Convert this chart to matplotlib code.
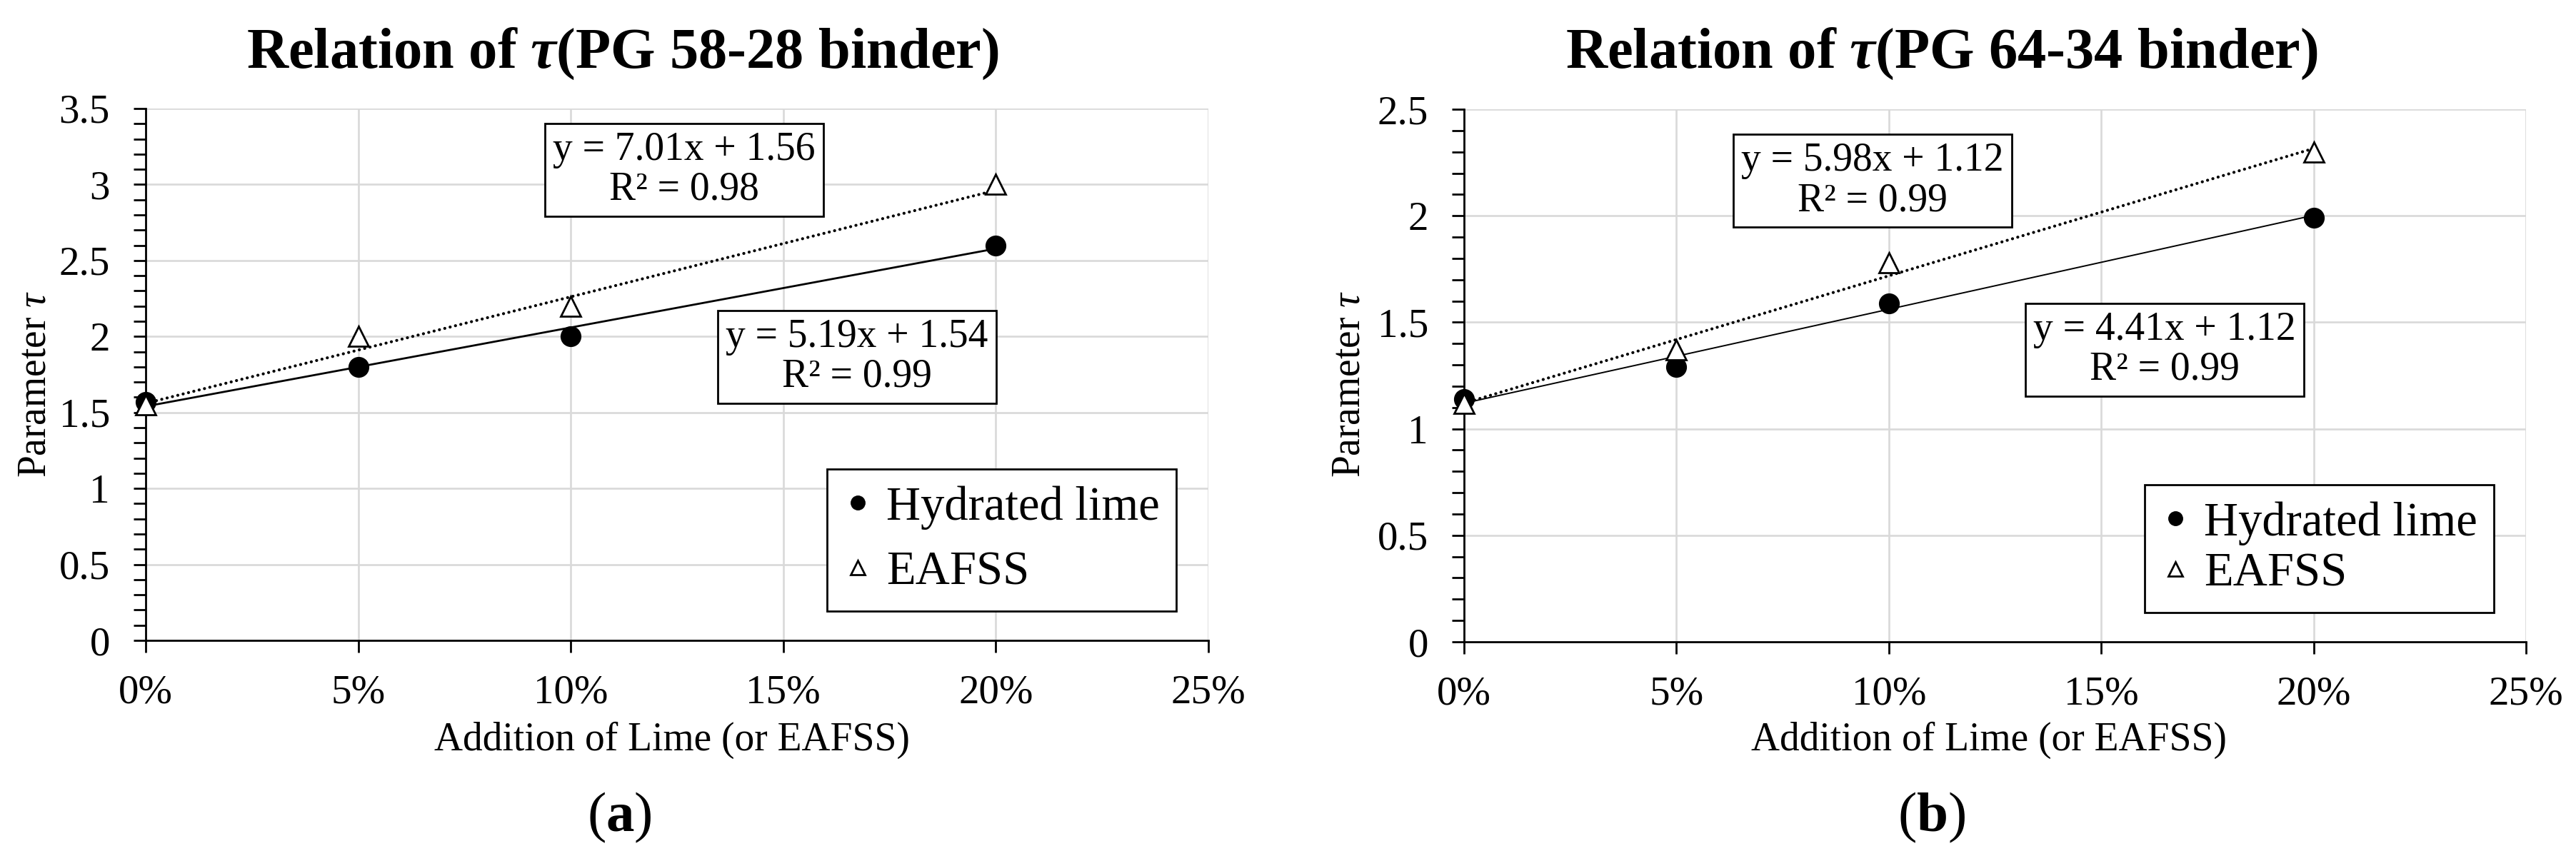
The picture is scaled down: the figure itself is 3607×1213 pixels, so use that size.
import numpy as np
import matplotlib
matplotlib.use("Agg")
import matplotlib.pyplot as plt
from matplotlib.ticker import MultipleLocator, PercentFormatter, FuncFormatter

plt.rcParams["font.family"] = ["Liberation Serif", "DejaVu Serif"]
plt.rcParams["mathtext.fontset"] = "custom"
plt.rcParams["mathtext.rm"] = "Liberation Serif"
plt.rcParams["mathtext.it"] = "Liberation Serif:italic"
plt.rcParams["mathtext.bf"] = "Liberation Serif:bold"
plt.rcParams["mathtext.bfit"] = "Liberation Serif:italic:bold"

# data
addition = [0.0, 0.05, 0.10, 0.20]

lime_a = [1.57, 1.80, 2.00, 2.60]
eafss_a = [1.55, 2.00, 2.20, 3.00]
lime_b = [1.14, 1.29, 1.59, 1.99]
eafss_b = [1.12, 1.37, 1.78, 2.30]

# trendline equations shown on the chart
slope_a = [5.19, 7.01]
icept_a = [1.54, 1.56]
r2_a = [0.99, 0.98]
slope_b = [4.41, 5.98]
icept_b = [1.12, 1.12]
r2_b = [0.99, 0.99]

titles = ["Relation of $\\mathbfit{\\tau}$(PG 58-28 binder)",
          "Relation of $\\mathbfit{\\tau}$(PG 64-34 binder)"]
ymax = [3.5, 2.5]

W, H = 3607, 1213
fig = plt.figure(figsize=(W / 100, H / 100), dpi=100)

def fx(px):
    return px / W

def fy(py):
    return 1 - py / H

ax_a = fig.add_axes([fx(204), fy(897), fx(1692 - 204), (897 - 152) / H])
ax_b = fig.add_axes([fx(2050), fy(899), fx(3537 - 2050), (899 - 153) / H])


def draw_panel(ax, lime, eafss, slopes, icepts, r2s, top, boxes, leg_space, lw_lime):
    xs = np.array([min(addition), max(addition)])
    # trendlines
    ax.plot(xs, slopes[0] * xs + icepts[0], color="black", lw=lw_lime, zorder=3)
    ax.plot(xs, slopes[1] * xs + icepts[1], color="black", lw=3.0,
            linestyle=(0, (0.05, 1.8)), dash_capstyle="round", zorder=3)
    # points
    ax.plot(addition, lime, "o", color="black", markersize=20,
            label="Hydrated lime", clip_on=False, zorder=4)
    ax.plot(addition, eafss, "^", color="black", markerfacecolor="white",
            markeredgewidth=2.0, markersize=20, label="EAFSS",
            clip_on=False, zorder=5)

    ax.set_xlim(0, 0.25)
    ax.set_ylim(0, top)
    ax.xaxis.set_major_locator(MultipleLocator(0.05))
    ax.xaxis.set_major_formatter(PercentFormatter(xmax=1, decimals=0))
    ax.yaxis.set_major_locator(MultipleLocator(0.5))
    ax.yaxis.set_minor_locator(MultipleLocator(0.1))
    ax.yaxis.set_major_formatter(FuncFormatter(lambda v, p: f"{v:g}"))

    ax.grid(True, which="major", color="#d9d9d9", lw=1.9)
    ax.set_axisbelow(True)
    for s in ["top", "right"]:
        ax.spines[s].set_visible(False)
    for s in ["left", "bottom"]:
        ax.spines[s].set_linewidth(2.0)
        ax.spines[s].set_color("black")
    ax.tick_params(axis="both", which="both", direction="out", length=12,
                   width=2.0, colors="black")
    ax.tick_params(axis="y", labelsize=41, pad=24)
    ax.tick_params(axis="x", labelsize=41, pad=22)

    # equation boxes
    for (bx, by), m, c, r in zip(boxes, slopes, icepts, r2s):
        ax.text(bx, by, f"y = {m:.2f}x + {c:.2f}\nR² = {r:.2f}",
                transform=ax.transAxes, ha="center", va="center",
                fontsize=40, linespacing=1.1, zorder=6,
                bbox=dict(boxstyle="square,pad=0.2", facecolor="white",
                          edgecolor="black", linewidth=2.0))

    leg = ax.legend(loc="lower right", bbox_to_anchor=(0.970, 0.055),
                    borderaxespad=0, fontsize=48, frameon=True,
                    fancybox=False, framealpha=1, edgecolor="black",
                    markerscale=0.7, handlelength=0.6, handletextpad=0.3,
                    labelspacing=leg_space, borderpad=0.35)
    leg.get_frame().set_linewidth(2.0)
    leg.set_zorder(7)


draw_panel(ax_a, lime_a, eafss_a, slope_a, icept_a, r2_a, ymax[0],
           [((1200 - 204) / 1488, (897 - 500) / 745),
            ((958 - 204) / 1488, (897 - 238) / 745)], 0.45, 2.0)
draw_panel(ax_b, lime_b, eafss_b, slope_b, icept_b, r2_b, ymax[1],
           [((3031 - 2050) / 1487, (899 - 490) / 746),
            ((2622 - 2050) / 1487, (899 - 253) / 746)], 0.15, 1.4)

# titles, axis labels and panel letters
for cx, t in zip([872, 2719], titles):
    fig.text(fx(cx), fy(75), t, ha="center", va="center",
             fontsize=58, fontweight="bold")
for cx in [50, 1890]:
    fig.text(fx(cx), fy(538), "Parameter $\\tau$", rotation=90,
             ha="center", va="center", fontsize=40)
for cx in [941, 2785]:
    fig.text(fx(cx), fy(1037), "Addition of Lime (or EAFSS)",
             ha="center", va="center", fontsize=40)
for cx, letter in zip([867, 2705], ["a", "b"]):
    fig.text(fx(cx), fy(1145), f"($\\mathbf{{{letter}}}$)",
             ha="center", va="center", fontsize=57)

fig.savefig("out.png", dpi=100, facecolor="white")
